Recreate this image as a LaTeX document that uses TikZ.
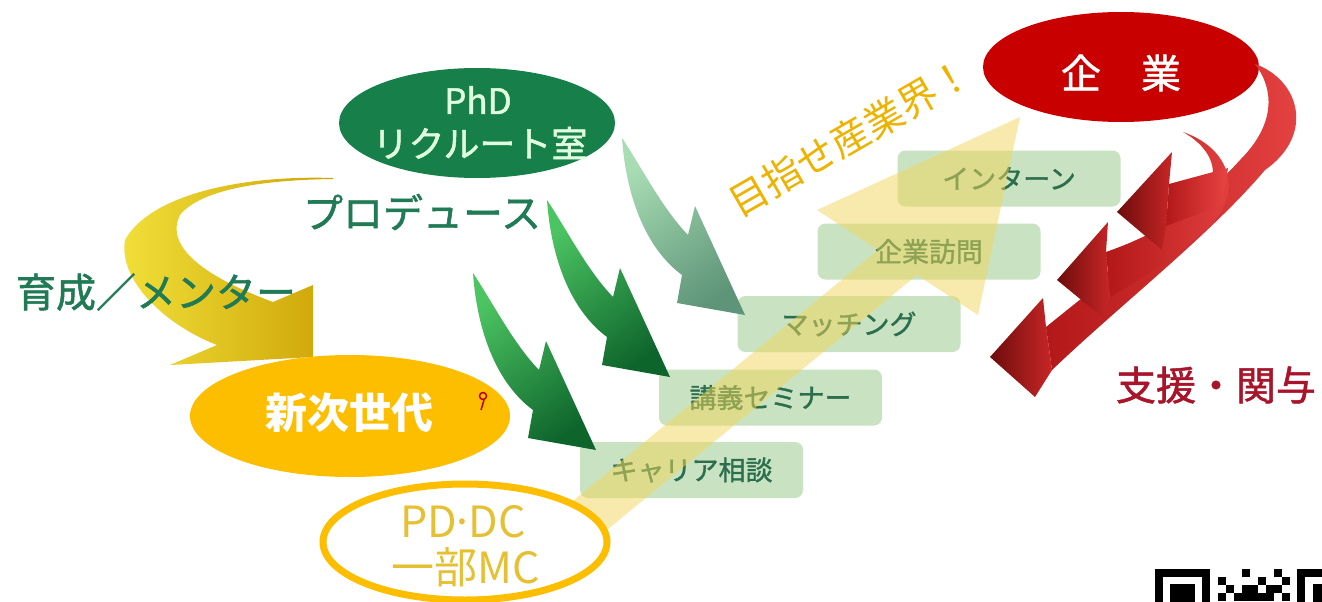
\documentclass[tikz,border=0pt]{standalone}
\usepackage{fontspec}
\newfontfamily\jp{Noto Sans CJK JP}
\newfontfamily\jpm[FakeBold=1.3]{Noto Sans CJK JP}
\usetikzlibrary{shapes.geometric}
\definecolor{phdgreen}{HTML}{17804A}
\definecolor{txtgreen}{HTML}{1F7A55}
\definecolor{boxgreen}{HTML}{C9E3C2}
\definecolor{boxtext}{HTML}{2B6E4E}
\definecolor{gold}{HTML}{FDBE00}
\definecolor{pdtext}{HTML}{E6C033}
\definecolor{kigyored}{HTML}{C80000}
\definecolor{shienred}{HTML}{A8142A}
\definecolor{mezasu}{HTML}{EDB300}
\definecolor{yarrow}{HTML}{F2D65A}
\definecolor{ylight}{HTML}{F2E03A}
\definecolor{ydark}{HTML}{CDA406}
\definecolor{gbright}{HTML}{4CC462}
\definecolor{gdark}{HTML}{0E652C}
\definecolor{glight}{HTML}{A8DDB4}
\definecolor{ggrey}{HTML}{5E9478}
\definecolor{rdark}{HTML}{6E0C0C}
\definecolor{rmid}{HTML}{C82626}
\definecolor{rband}{HTML}{E84444}
\definecolor{rbanddark}{HTML}{B31818}
\tikzset{
  pics/garrowdark/.style={code={
    \shade[top color=gbright, bottom color=gdark, shading angle=35]
      (0,0) .. controls (20,30) and (40,70) .. (66,97) -- (73,68) -- (123,177)
      -- (55,165) -- (60,137) .. controls (30,115) and (5,70) .. (0,0) -- cycle;}},
  pics/garrowlight/.style={code={
    \shade[top color=glight, bottom color=ggrey, shading angle=35]
      (0,0) .. controls (20,30) and (40,70) .. (66,97) -- (73,68) -- (123,177)
      -- (55,165) -- (60,137) .. controls (30,115) and (5,70) .. (0,0) -- cycle;}},
}
\begin{document}
\begin{tikzpicture}[x=1pt,y=-1pt,
  every node/.style={inner sep=0pt, font=\jp},
  bigtext/.style={font=\jpm\fontsize{40}{40}\selectfont},
  stepbox/.style={fill=boxgreen, rounded corners=8pt, minimum width=223pt,
    minimum height=56pt, text=boxtext, font=\jpm\fontsize{27}{27}\selectfont},
  oval/.style={ellipse, inner sep=0pt},
  redhead/.style={left color=rdark, right color=rmid},
  redband/.style={left color=rbanddark, right color=rband},
]
\useasboundingbox (0,0) rectangle (1322,602);
\fill[white] (0,0) rectangle (1322,602);

% yellow curved arrow (育成)
\shade[left color=ylight, right color=ydark]
  (333,178) .. controls (240,175) and (150,195) .. (125,240)
  .. controls (118,280) and (165,325) .. (217,345) -- (170,365) -- (313,357)
  -- (313,285) -- (273,302) .. controls (200,275) and (165,245) .. (180,215)
  .. controls (200,190) and (260,180) .. (333,179) -- cycle;
\node[bigtext, text=txtgreen] (ikusei) at (156,292) {育成／メンター};

% PhD recruit office
\node[oval, fill=phdgreen, minimum width=276pt, minimum height=110pt] (phd) at (477,123) {};
\node[text=white!88!green, font=\jpm\fontsize{35}{35}\selectfont] (phd1) at (478,100) {PhD};
\node[text=white!88!green, font=\jpm\fontsize{36}{36}\selectfont] (phd2) at (480,143) {リクルート室};
\node[bigtext, text=txtgreen] (produce) at (422,212) {プロデュース};

% step boxes
\node[stepbox] (b1) at (691.5,470) {キャリア相談};
\node[stepbox] (b2) at (770.5,397.5) {講義セミナー};
\node[stepbox] (b3) at (849,324) {マッチング};
\node[stepbox] (b4) at (929,251.5) {企業訪問};
\node[stepbox] (b5) at (1009,178.5) {インターン};

% green arrows
\pic at (622,138) {garrowlight};
\pic at (547,200) {garrowdark};
\pic at (473,273) {garrowdark};

% pale yellow rising arrow
\fill[yarrow, fill opacity=0.5] (546,523) -- (878,250) -- (817,210) -- (1020,117)
  -- (978,315) -- (917,275) -- (574,557) -- cycle;
\node[text=mezasu, font=\jp\fontsize{39}{39}\selectfont, rotate=30] (mezase) at (850,137) {目指せ産業界！};

% next generation
\node[oval, fill=gold, minimum width=320pt, minimum height=122pt] (next) at (350,416) {};
\node[text=white, font=\jp\bfseries\fontsize{42}{42}\selectfont] (nexttxt) at (349,413) {新次世代};
\draw[red!75!black, line width=1.5pt] (483,396) circle[radius=3.5pt];
\draw[red!75!black, line width=1.5pt] (484,400) -- (481,410);

% PD DC ellipse
\node[oval, draw=gold, line width=7pt, fill=white, minimum width=284pt, minimum height=116pt] (pd) at (465,542) {};
\node[text=pdtext, font=\jp\fontsize{43}{43}\selectfont] (pd1) at (463,522) {PD\kern-6pt·\kern-6pt DC};
\node[text=pdtext, font=\jp\fontsize{43}{43}\selectfont] (pd2) at (466,567) {一部MC};

% company
\node[oval, fill=kigyored, minimum width=276pt, minimum height=110pt] (kigyo) at (1121,67) {};
\node[text=white, font=\jpm\fontsize{40}{40}\selectfont] (kigyotxt) at (1121,73) {企　業};

% red twisted arrows
\shade[redband] (1255,64) .. controls (1300,80) and (1315,135) .. (1265,170)
  .. controls (1210,235) and (1120,305) .. (1052,370) -- (1046,327)
  .. controls (1110,275) and (1190,215) .. (1240,160)
  .. controls (1275,125) and (1275,90) .. (1255,64) -- cycle;
\shade[redband] (1183,132) .. controls (1235,150) and (1245,200) .. (1200,235)
  .. controls (1170,260) and (1140,280) .. (1110,297) -- (1106,252)
  .. controls (1140,240) and (1170,225) .. (1195,205)
  .. controls (1225,180) and (1215,150) .. (1183,132) -- cycle;
\shade[redband] (1169,184) -- (1228,168) -- (1222,205) -- (1166,226) -- cycle;
\shade[redhead] (990,357) -- (1043,298) -- (1046,327) -- (1052,370) -- (1035,397) -- cycle;
\shade[redhead] (1057,280) -- (1108,222) -- (1106,252) -- (1110,297) -- (1102,317) -- cycle;
\shade[redhead] (1117,212) -- (1172,152) -- (1169,184) -- (1166,226) -- (1162,250) -- cycle;
\node[bigtext, text=shienred] (shien) at (1216,385) {支援・関与};

% partial QR code
\fill[black] (1155,569) rectangle (1210,602);
\fill[white] (1163,577) rectangle (1202,602);
\fill[black] (1170,584) rectangle (1195,602);
\fill[black] (1297,569) rectangle (1322,602);
\fill[white] (1305,577) rectangle (1322,602);
\fill[black] (1313,584) rectangle (1322,602);
\foreach \x/\y in {1242/569,1274/569,1218/577,1258/577,1282/577,
  1226/585,1242/585,1250/585,1266/585,1274/585,
  1218/593,1234/593,1242/593,1250/593,1258/593,1266/593,1282/593}
  \fill[black] (\x,\y) rectangle ++(8,8);
\end{tikzpicture}
\end{document}
